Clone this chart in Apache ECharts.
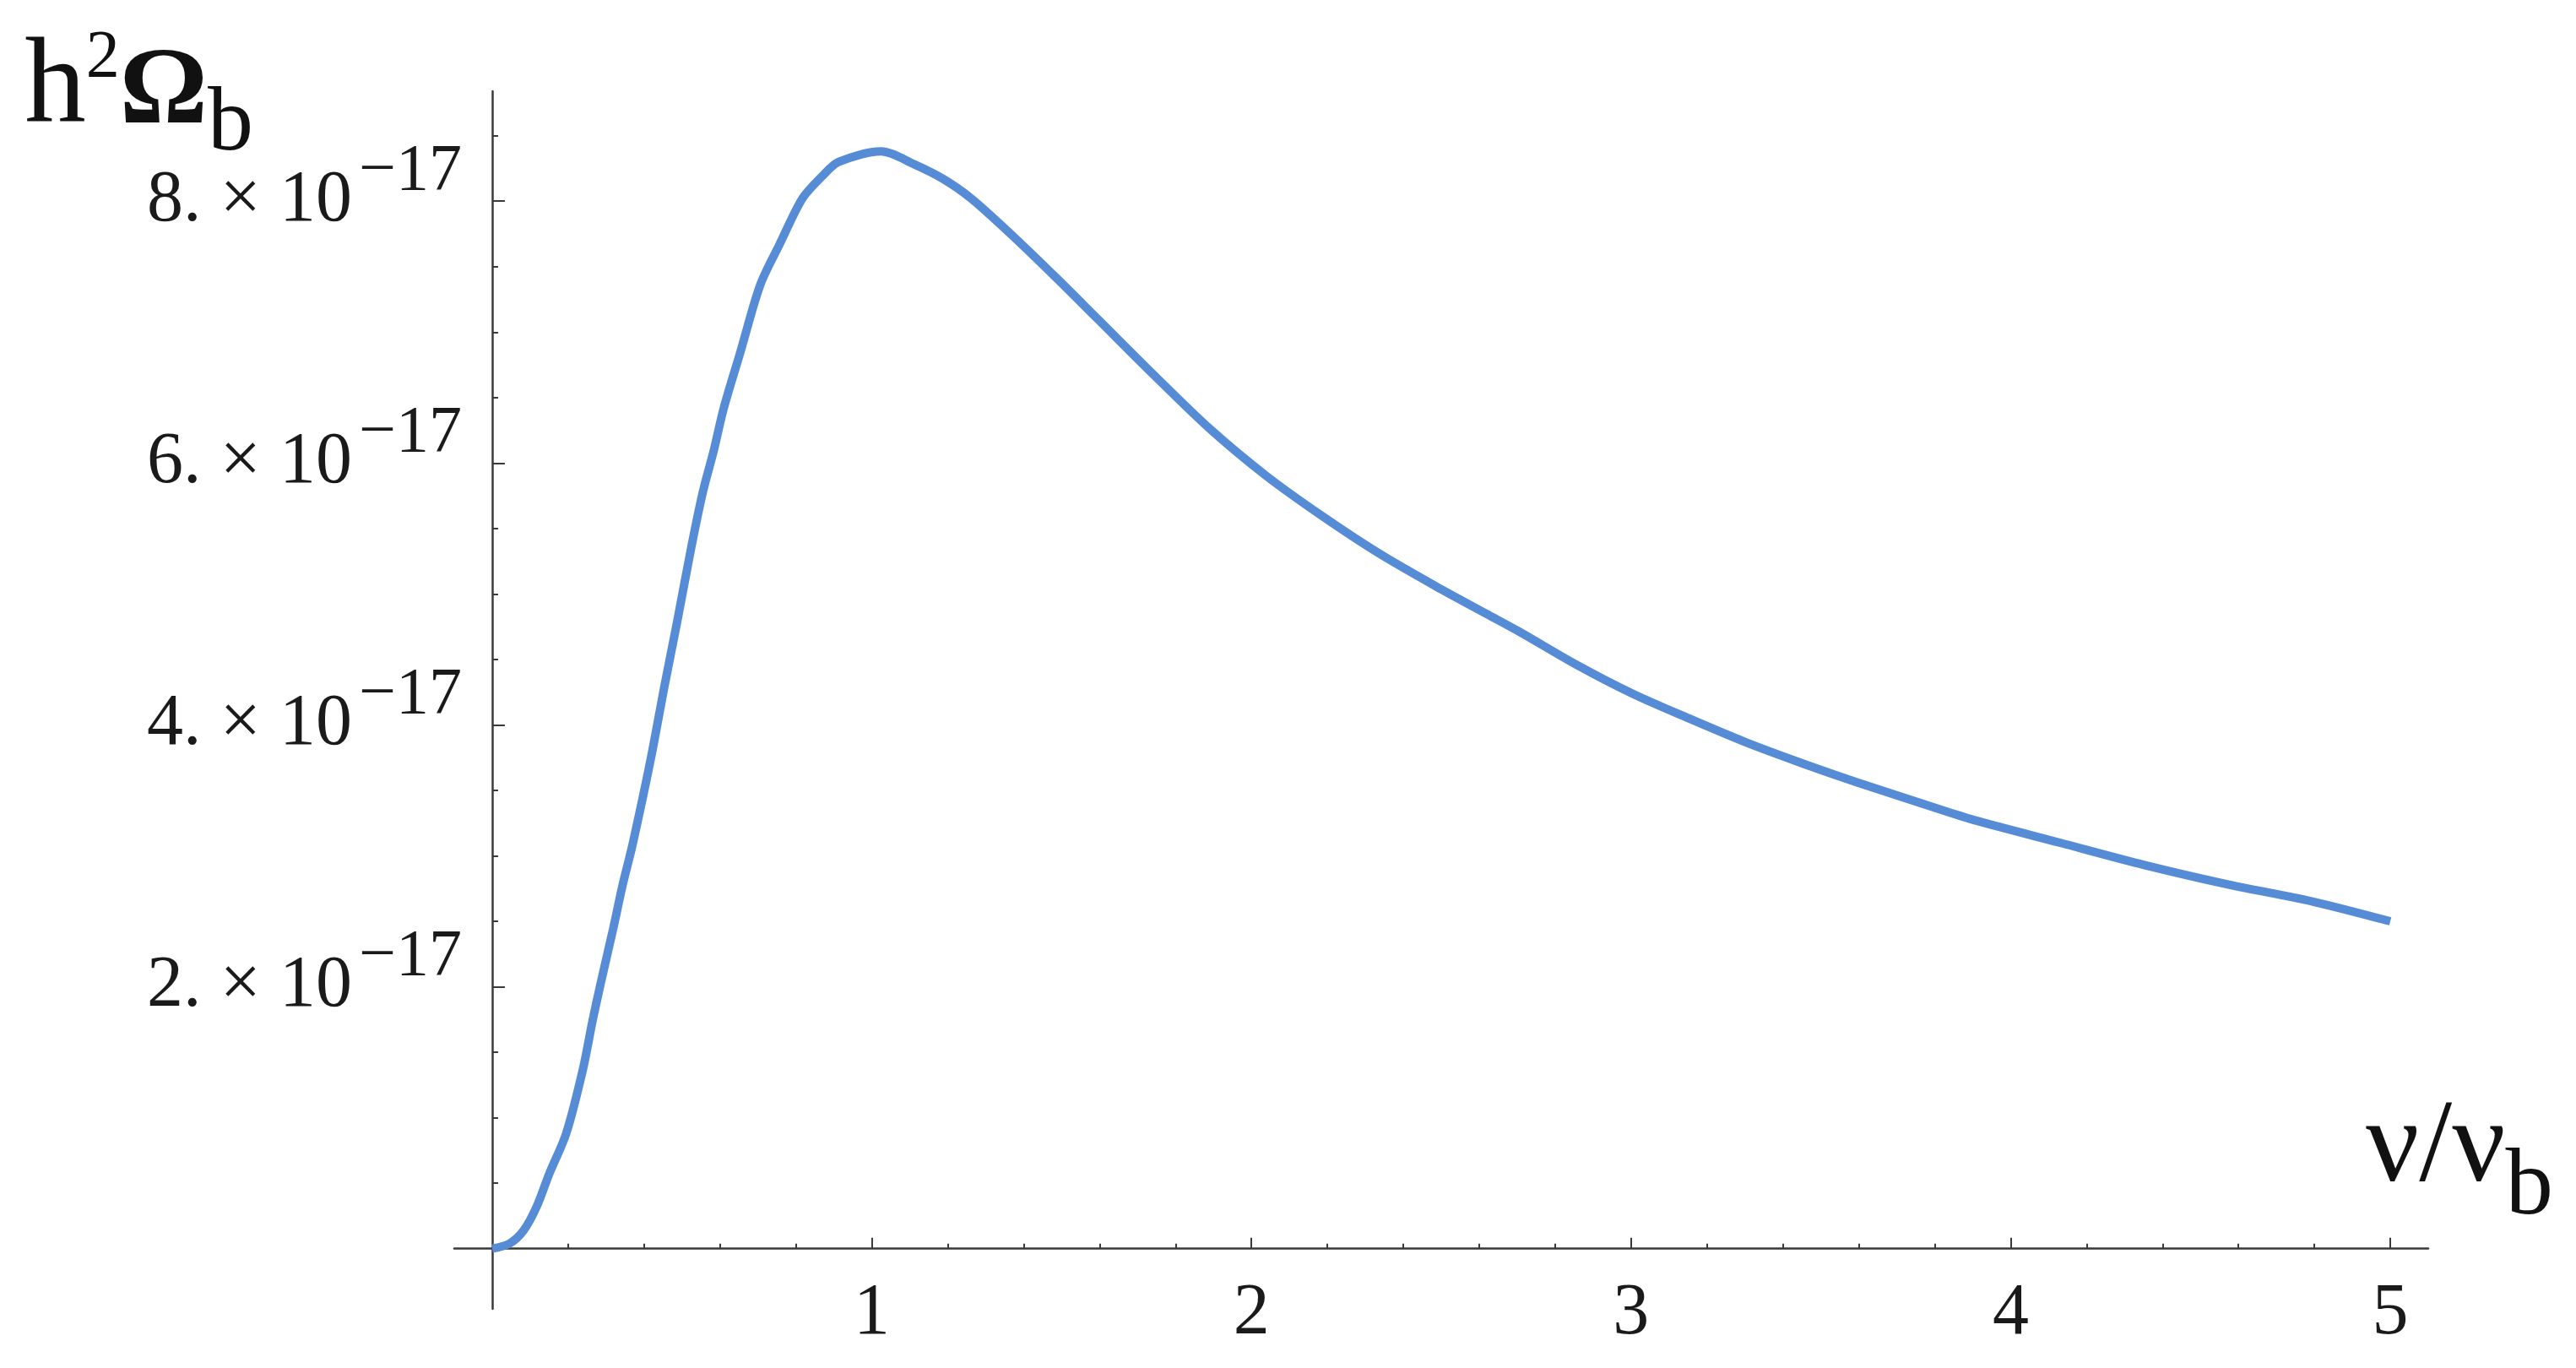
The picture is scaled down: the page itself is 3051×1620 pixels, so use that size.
<!DOCTYPE html>
<html><head><meta charset="utf-8">
<script src="https://cdn.jsdelivr.net/npm/echarts@6/dist/echarts.min.js"></script>
<style>html,body{margin:0;padding:0;background:#fff}#c{width:3051px;height:1620px}</style>
</head><body><div id="c"></div>
<script>
// ν/ν_b values
const nuRatio = [0, 0.046, 0.083, 0.117, 0.15, 0.195, 0.239, 0.265, 0.29, 0.32, 0.343, 0.37, 0.417, 0.454, 0.488, 0.524, 0.555, 0.584, 0.61, 0.654, 0.706, 0.757, 0.817, 0.869, 0.913, 1.024, 1.113, 1.188, 1.262, 1.373, 1.484, 1.595, 1.744, 1.891, 2.04, 2.189, 2.336, 2.485, 2.618, 2.707, 2.856, 3.003, 3.152, 3.30, 3.448, 3.597, 3.819, 3.908, 4.13, 4.352, 4.575, 4.797, 5.0];
// h²Ω_b in units of 10^-17
const omegaE17 = [0, 0.04, 0.14, 0.32, 0.57, 0.88, 1.37, 1.75, 2.08, 2.46, 2.77, 3.09, 3.73, 4.30, 4.80, 5.35, 5.78, 6.10, 6.42, 6.85, 7.36, 7.67, 8.02, 8.19, 8.30, 8.38, 8.28, 8.17, 8.02, 7.73, 7.42, 7.10, 6.67, 6.26, 5.90, 5.59, 5.31, 5.06, 4.85, 4.71, 4.46, 4.24, 4.05, 3.87, 3.71, 3.56, 3.35, 3.27, 3.10, 2.93, 2.78, 2.65, 2.50];
const xMajorTicks = [1, 2, 3, 4, 5];
const xMinorTicks = [0.2, 0.4, 0.6, 0.8, 1.2, 1.4, 1.6, 1.8, 2.2, 2.4, 2.6, 2.8, 3.2, 3.4, 3.6, 3.8, 4.2, 4.4, 4.6, 4.8];
const yMajorTicks = [2, 4, 6, 8];
const yMinorTicks = [0.5, 1, 1.5, 2.5, 3, 3.5, 4.5, 5, 5.5, 6.5, 7, 7.5, 8.5];
const yExponentText = '−17';

const FONT = 'Liberation Serif';
const AX = '#3a3a3a';
const W = 3051, H = 1620;
const GRID = {left: 538, right: 175, top: 108, bottom: 70};
const X_RANGE = [-0.1, 5.1];
const Y_RANGE = [-0.46, 8.84];
// axes cross at the origin: shift the axes from the grid edge to the zero line
const yAxisShift = -(0 - X_RANGE[0]) / (X_RANGE[1] - X_RANGE[0]) * (W - GRID.left - GRID.right);
const xAxisShift = -(0 - Y_RANGE[0]) / (Y_RANGE[1] - Y_RANGE[0]) * (H - GRID.top - GRID.bottom);

const chart = echarts.init(document.getElementById('c'), null, {renderer: 'canvas'});
const points = nuRatio.map((x, i) => [x, omegaE17[i]]);

const xBase = {type: 'value', min: X_RANGE[0], max: X_RANGE[1], splitLine: {show: false}, gridIndex: 0, position: 'bottom', offset: xAxisShift};
const yBase = {type: 'value', min: Y_RANGE[0], max: Y_RANGE[1], splitLine: {show: false}, gridIndex: 0, position: 'left', offset: yAxisShift};
const hiddenLine = {show: true, onZero: false, lineStyle: {color: AX, width: 2.5, opacity: 0}};

const option = {
  backgroundColor: '#ffffff',
  animation: false,
  grid: Object.assign({containLabel: false, outerBoundsMode: 'none'}, GRID),
  xAxis: [
    Object.assign({}, xBase, {
      axisLine: {show: true, onZero: false, lineStyle: {color: AX, width: 2.5}},
      axisTick: {show: true, inside: true, length: 6, customValues: xMinorTicks, lineStyle: {color: AX, width: 2}},
      axisLabel: {show: false},
      name: '{n|ν}{n|/}{n|ν}{b|b}',
      nameLocation: 'end',
      nameGap: -74,
      nameTextStyle: {
        align: 'left', verticalAlign: 'bottom',
        rich: {
          n: {fontFamily: FONT, fontSize: 140, lineHeight: 140, color: '#111', verticalAlign: 'bottom', padding: [0, 0, 47, 0]},
          b: {fontFamily: FONT, fontSize: 113, lineHeight: 113, color: '#111', verticalAlign: 'bottom', padding: [0, 0, 15, 0]}
        }
      }
    }),
    Object.assign({}, xBase, {
      axisLine: hiddenLine,
      axisTick: {show: true, inside: true, length: 13, customValues: xMajorTicks, lineStyle: {color: AX, width: 2}},
      axisLabel: {show: true, customValues: xMajorTicks, margin: 35, fontFamily: FONT, fontSize: 86, color: '#1a1a1a'}
    })
  ],
  yAxis: [
    Object.assign({}, yBase, {
      axisLine: {show: true, onZero: false, lineStyle: {color: AX, width: 2.5}},
      axisTick: {show: true, inside: true, length: 7, customValues: yMinorTicks, lineStyle: {color: AX, width: 2}},
      axisLabel: {show: false},
      name: '{h|h}{s|2}{o|Ω}{b|b}',
      nameLocation: 'end',
      nameGap: -95,
      nameTextStyle: {
        align: 'right', verticalAlign: 'bottom', padding: [0, 283, 0, 0],
        rich: {
          h: {fontFamily: FONT, fontSize: 145, lineHeight: 145, color: '#111', verticalAlign: 'bottom', padding: [0, 0, 25, 0]},
          s: {fontFamily: FONT, fontSize: 80, lineHeight: 80, color: '#111', verticalAlign: 'bottom', padding: [0, 0, 93, 0]},
          o: {fontFamily: FONT, fontSize: 130, lineHeight: 130, fontWeight: 'bold', color: '#111', verticalAlign: 'bottom', padding: [0, 0, 27, 0]},
          b: {fontFamily: FONT, fontSize: 108, lineHeight: 108, color: '#111', verticalAlign: 'bottom', padding: [0, 0, 0, 0]}
        }
      }
    }),
    Object.assign({}, yBase, {
      axisLine: hiddenLine,
      axisTick: {show: true, inside: true, length: 15, customValues: yMajorTicks, lineStyle: {color: AX, width: 2}},
      axisLabel: {
        show: true, customValues: yMajorTicks, margin: 36,
        formatter: v => `{m|${v}.}{g| }{m|×}{g| }{m|10}{e|${yExponentText}}`,
        rich: {
          m: {fontFamily: FONT, fontSize: 86, lineHeight: 86, color: '#1a1a1a', verticalAlign: 'bottom'},
          g: {fontFamily: FONT, fontSize: 86, lineHeight: 86, width: 22, verticalAlign: 'bottom'},
          e: {fontFamily: FONT, fontSize: 78, lineHeight: 78, color: '#1a1a1a', verticalAlign: 'bottom', padding: [0, 0, 39, 8]}
        }
      }
    })
  ],
  series: [{
    type: 'line',
    xAxisIndex: 0, yAxisIndex: 0,
    data: points,
    showSymbol: false,
    smooth: 0.3,
    clip: false,
    lineStyle: {color: '#568bd6', width: 10, cap: 'butt', join: 'round'}
  }]
};
chart.setOption(option);
</script>
</body></html>
